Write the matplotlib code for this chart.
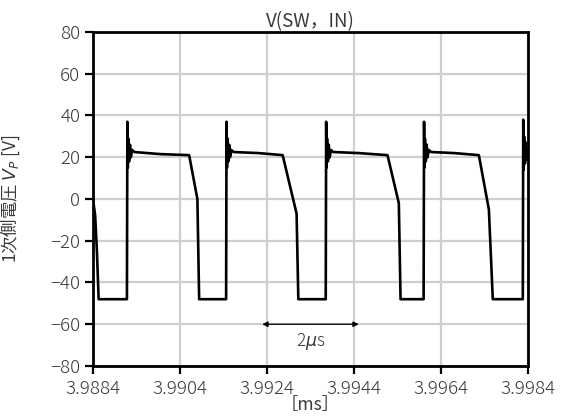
#!/usr/bin/env python3

import numpy as np
import matplotlib

matplotlib.use("Agg")
import matplotlib.pyplot as plt


T0_MS = 3.9884

# waveform: time offset from T0 in microseconds, voltage in V
t_us = [
    0.00, 0.05, 0.09, 0.13,
    0.78, 0.79, 0.80, 0.81, 0.83, 0.85, 0.87, 0.90, 0.95, 1.55, 2.21, 2.40, 2.44,
    3.06, 3.07, 3.08, 3.09, 3.11, 3.13, 3.15, 3.18, 3.23, 3.80, 4.36, 4.68, 4.72,
    5.35, 5.36, 5.37, 5.38, 5.40, 5.42, 5.44, 5.47, 5.52, 6.10, 6.77, 7.03, 7.07,
    7.60, 7.61, 7.62, 7.63, 7.65, 7.67, 7.69, 7.72, 7.77, 8.30, 8.87, 9.10, 9.19,
    9.88, 9.89, 9.90, 9.91, 9.93, 9.95, 9.97, 10.00,
]
v_p = [
    0, -8, -25, -48,
    -48, 37, 15, 29, 18, 26, 20, 23.5, 22.5, 21.5, 21, 0, -48,
    -48, 37, 15, 29, 18, 26, 20, 23.5, 22.5, 22, 21, -7, -48,
    -48, 37, 15, 29, 18, 26, 20, 23.5, 22.5, 22, 21, -2, -48,
    -48, 37, 15, 29, 18, 26, 20, 23.5, 22.5, 22, 21, -5, -48,
    -48, 38, 14, 30, 17, 27, 19, 24,
]

x_ticks = [3.9884, 3.9904, 3.9924, 3.9944, 3.9964, 3.9984]
x_tick_labels = ["3.9884", "3.9904", "3.9924", "3.9944", "3.9964", "3.9984"]
y_ticks = [-80, -60, -40, -20, 0, 20, 40, 60, 80]

arrow_span_ms = [3.99229, 3.99451]
arrow_level = -60
arrow_text = "2$\\mu$s"

plt.rcParams["font.family"] = ["Noto Sans CJK JP", "DejaVu Sans"]
plt.rcParams["font.weight"] = "light"
plt.rcParams["axes.unicode_minus"] = True

fig = plt.figure(figsize=(5.66, 4.16), dpi=100)
ax = fig.add_axes([0.1643, 0.1202, 0.7686, 0.8029])

t_ms = T0_MS + np.asarray(t_us) / 1000.0
ax.plot(t_ms, v_p, color="black", lw=1.9, solid_joinstyle="round")

ax.set_xlim(x_ticks[0], x_ticks[-1])
ax.set_ylim(-80, 80)
ax.set_xticks(x_ticks)
ax.set_xticklabels(x_tick_labels)
ax.set_yticks(y_ticks)
ax.set_yticklabels([f"{v:d}".replace("-", "\u2212") for v in y_ticks])

ax.grid(True, color="#cfcfcf", lw=1.6)
ax.set_axisbelow(True)

for side in ["left", "right", "top", "bottom"]:
    ax.spines[side].set_linewidth(2.0)
    ax.spines[side].set_color("black")

ax.tick_params(
    axis="both", direction="out", length=6, width=1.6,
    labelsize=13.5, labelcolor="#3a3a3a", pad=3,
)
ax.tick_params(axis="x", pad=4)

ax.annotate(
    "",
    xy=(arrow_span_ms[1], arrow_level),
    xytext=(arrow_span_ms[0], arrow_level),
    arrowprops=dict(arrowstyle="<|-|>", color="black", lw=0.9,
                    mutation_scale=8, shrinkA=0, shrinkB=0),
)
ax.text(
    sum(arrow_span_ms) / 2, arrow_level - 3.0, arrow_text,
    ha="center", va="top", fontsize=12.5, color="#3a3a3a",
)

ax.set_title("V(SW，IN)", fontsize=13.5, color="#3a3a3a", pad=2)
ax.set_ylabel("1次側電圧 $V_P$ [V]", fontsize=12.5, color="#3a3a3a")
ax.yaxis.set_label_coords(-0.163, 0.5)
ax.set_xlabel("［ms］", fontsize=12.5, color="#3a3a3a", labelpad=-1)

fig.savefig("out.png", dpi=100)
